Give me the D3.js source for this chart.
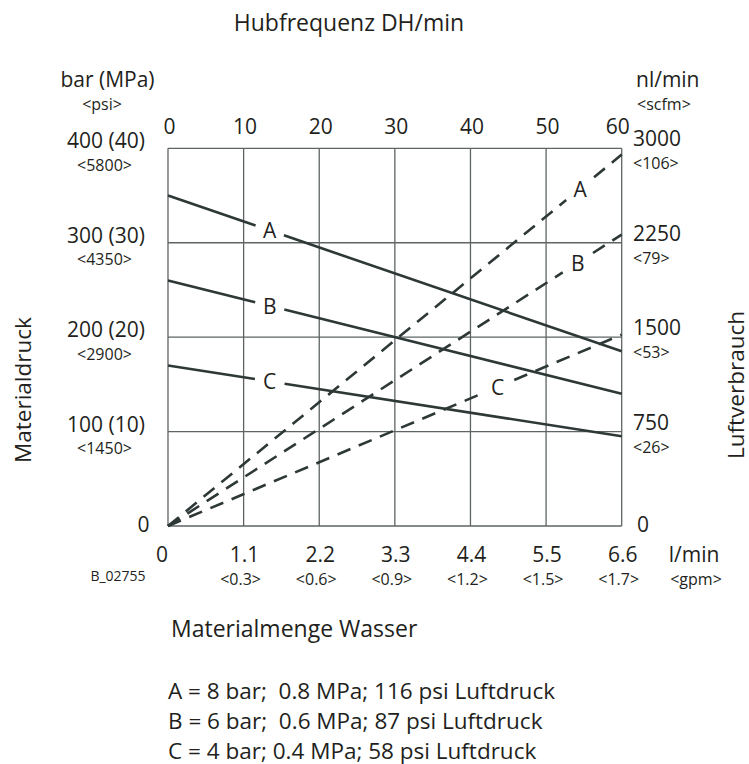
<!DOCTYPE html>
<html>
<head>
<meta charset="utf-8">
<script src="https://cdn.jsdelivr.net/npm/d3@7"></script>
<style>
  body { margin: 0; background: #fff; }
  svg text { font-family: "Open Sans", sans-serif; fill: #231f20; }
</style>
</head>
<body>
<div id="chart"></div>
<script>
// axis ticks
const strokeTicks = [0, 10, 20, 30, 40, 50, 60];
const flowTicks = [0, 1.1, 2.2, 3.3, 4.4, 5.5, 6.6];
const gpmLabels = ["", "<0.3>", "<0.6>", "<0.9>", "<1.2>", "<1.5>", "<1.7>"];
const pressTicks = [0, 100, 200, 300, 400];
const pressLabels = ["0", "100 (10)", "200 (20)", "300 (30)", "400 (40)"];
const psiLabels = ["", "<1450>", "<2900>", "<4350>", "<5800>"];
const airTicks = [0, 750, 1500, 2250, 3000];
const scfmLabels = ["", "<26>", "<53>", "<79>", "<106>"];

// curves A/B/C
const series = ["A", "B", "C"];
const pressureStart = [350, 260, 170]; // bar at 0 l/min
const pressureEnd = [185, 140, 95];    // bar at 6.6 l/min
const airEnd = [2950, 2315, 1520];     // nl/min at 60 DH/min
const pressLabelAt = [1.48, 1.48, 1.48]; // l/min
const airLabelAt = [54.5, 54.2, 43.6];   // DH/min

const legendLines = [
  "A = 8 bar;  0.8 MPa; 116 psi Luftdruck",
  "B = 6 bar;  0.6 MPa; 87 psi Luftdruck",
  "C = 4 bar; 0.4 MPa; 58 psi Luftdruck"
];

const W = 749, H = 764;
const plotL = 168, plotR = 621.7, plotT = 148.3, plotB = 526;

const svg = d3.select("#chart").append("svg")
  .attr("width", W).attr("height", H);

const xFlow = d3.scaleLinear().domain([0, 6.6]).range([plotL, plotR]);
const xStroke = d3.scaleLinear().domain([0, 60]).range([plotL, plotR]);
const yPress = d3.scaleLinear().domain([0, 400]).range([plotB, plotT]);
const yAir = d3.scaleLinear().domain([0, 3000]).range([plotB, plotT]);

const gridColor = "#5d6463";
const lineColor = "#2d3837";
const big = 21, small = 16;

// grid
const grid = svg.append("g");
grid.selectAll(".vg").data(flowTicks).join("line")
  .attr("x1", d => xFlow(d)).attr("x2", d => xFlow(d))
  .attr("y1", plotT).attr("y2", plotB)
  .attr("stroke", gridColor).attr("stroke-width", 1.3);
grid.selectAll(".hg").data(pressTicks).join("line")
  .attr("x1", plotL).attr("x2", plotR)
  .attr("y1", d => yPress(d)).attr("y2", d => yPress(d))
  .attr("stroke", gridColor).attr("stroke-width", 1.3);

// split a straight line into two pieces around its label
function pieces(x, y, x0, y0, x1, y1, xl, gap) {
  const p0 = [x(x0), y(y0)], p1 = [x(x1), y(y1)];
  const dx = p1[0] - p0[0], dy = p1[1] - p0[1];
  const len = Math.hypot(dx, dy);
  const ux = dx / len, uy = dy / len;
  const t = (x(xl) - p0[0]) / dx;
  const pl = [p0[0] + t * dx, p0[1] + t * dy];
  return {
    segs: [
      [p0, [pl[0] - gap * ux, pl[1] - gap * uy]],
      [[pl[0] + gap * ux, pl[1] + gap * uy], p1]
    ],
    label: pl
  };
}

const line = d3.line();
const curves = svg.append("g");

series.forEach((name, i) => {
  // pressure vs material flow (solid)
  const sp = pieces(xFlow, yPress, 0, pressureStart[i], 6.6, pressureEnd[i], pressLabelAt[i], 15);
  sp.segs.forEach(s => {
    curves.append("path").attr("d", line(s))
      .attr("fill", "none").attr("stroke", lineColor).attr("stroke-width", 2.6);
  });
  curves.append("text").attr("x", sp.label[0]).attr("y", sp.label[1])
    .attr("text-anchor", "middle").attr("dominant-baseline", "central")
    .attr("font-size", big).text(name);

  // air consumption vs stroke rate (dashed)
  const ap = pieces(xStroke, yAir, 0, 0, 60, airEnd[i], airLabelAt[i], 18);
  ap.segs.forEach(s => {
    curves.append("path").attr("d", line(s))
      .attr("fill", "none").attr("stroke", lineColor).attr("stroke-width", 2.6)
      .attr("stroke-dasharray", "14,9");
  });
  curves.append("text").attr("x", ap.label[0]).attr("y", ap.label[1])
    .attr("text-anchor", "middle").attr("dominant-baseline", "central")
    .attr("font-size", big).text(name);
});

// top axis: stroke rate
svg.append("g").selectAll("text").data(strokeTicks).join("text")
  .attr("x", d => d === 60 ? xStroke(d) - 4 : xStroke(d) + 1.5)
  .attr("y", 126).attr("text-anchor", "middle").attr("dominant-baseline", "central")
  .attr("font-size", big).text(d => d);
svg.append("text").attr("x", 349).attr("y", 22)
  .attr("text-anchor", "middle").attr("dominant-baseline", "central")
  .attr("font-size", 23).text("Hubfrequenz DH/min");

// left axis: pressure
const la = svg.append("g");
la.selectAll(".pv").data(pressTicks).join("text")
  .attr("x", d => d === 0 ? 143.5 : 106)
  .attr("y", d => d === 0 ? 524 : yPress(d) - 8)
  .attr("text-anchor", "middle").attr("dominant-baseline", "central")
  .attr("font-size", big).text((d, i) => pressLabels[i]);
la.selectAll(".ps").data(pressTicks.slice(1)).join("text")
  .attr("x", 104.5).attr("y", d => yPress(d) + 16.5)
  .attr("text-anchor", "middle").attr("dominant-baseline", "central")
  .attr("font-size", small).text((d, i) => psiLabels[i + 1]);
la.append("text").attr("x", 107.5).attr("y", 79)
  .attr("text-anchor", "middle").attr("dominant-baseline", "central")
  .attr("font-size", big).text("bar (MPa)");
la.append("text").attr("x", 102).attr("y", 104)
  .attr("text-anchor", "middle").attr("dominant-baseline", "central")
  .attr("font-size", small).text("<psi>");
la.append("text")
  .attr("transform", "translate(22,390) rotate(-90)")
  .attr("text-anchor", "middle").attr("dominant-baseline", "central")
  .attr("font-size", 22.5).text("Materialdruck");

// right axis: air consumption
const ra = svg.append("g");
ra.selectAll(".av").data(airTicks).join("text")
  .attr("x", d => d === 0 ? 637 : 633)
  .attr("y", d => d === 0 ? 524 : yAir(d) - 10)
  .attr("dominant-baseline", "central")
  .attr("font-size", big).text(d => d);
ra.selectAll(".as").data(airTicks.slice(1)).join("text")
  .attr("x", 633).attr("y", d => yAir(d) + 15)
  .attr("dominant-baseline", "central")
  .attr("font-size", small).text((d, i) => scfmLabels[i + 1]);
ra.append("text").attr("x", 636).attr("y", 79)
  .attr("dominant-baseline", "central")
  .attr("font-size", big).text("nl/min");
ra.append("text").attr("x", 637).attr("y", 104)
  .attr("dominant-baseline", "central")
  .attr("font-size", small).text("<scfm>");
ra.append("text")
  .attr("transform", "translate(735,385) rotate(-90)")
  .attr("text-anchor", "middle").attr("dominant-baseline", "central")
  .attr("font-size", 22.5).text("Luftverbrauch");

// bottom axis: material flow
const ba = svg.append("g");
ba.selectAll(".fv").data(flowTicks).join("text")
  .attr("x", d => d === 0 ? xFlow(d) - 6 : xFlow(d) + 1)
  .attr("y", 554)
  .attr("text-anchor", "middle").attr("dominant-baseline", "central")
  .attr("font-size", big).text(d => d);
ba.selectAll(".fs").data(flowTicks).join("text")
  .attr("x", d => xFlow(d) - 3).attr("y", 579)
  .attr("text-anchor", "middle").attr("dominant-baseline", "central")
  .attr("font-size", small).text((d, i) => gpmLabels[i]);
ba.append("text").attr("x", 694).attr("y", 554)
  .attr("text-anchor", "middle").attr("dominant-baseline", "central")
  .attr("font-size", big).text("l/min");
ba.append("text").attr("x", 696).attr("y", 579)
  .attr("text-anchor", "middle").attr("dominant-baseline", "central")
  .attr("font-size", small).text("<gpm>");
ba.append("text").attr("x", 118).attr("y", 575)
  .attr("text-anchor", "middle").attr("dominant-baseline", "central")
  .attr("font-size", 14).text("B_02755");
ba.append("text").attr("x", 171).attr("y", 628)
  .attr("dominant-baseline", "central")
  .attr("font-size", 23).text("Materialmenge Wasser");

// legend
svg.append("g").selectAll("text").data(legendLines).join("text")
  .attr("x", 168).attr("y", (d, i) => 690 + i * 30)
  .attr("dominant-baseline", "central")
  .attr("font-size", 22.5)
  .style("white-space", "pre")
  .text(d => d);
</script>
</body>
</html>
